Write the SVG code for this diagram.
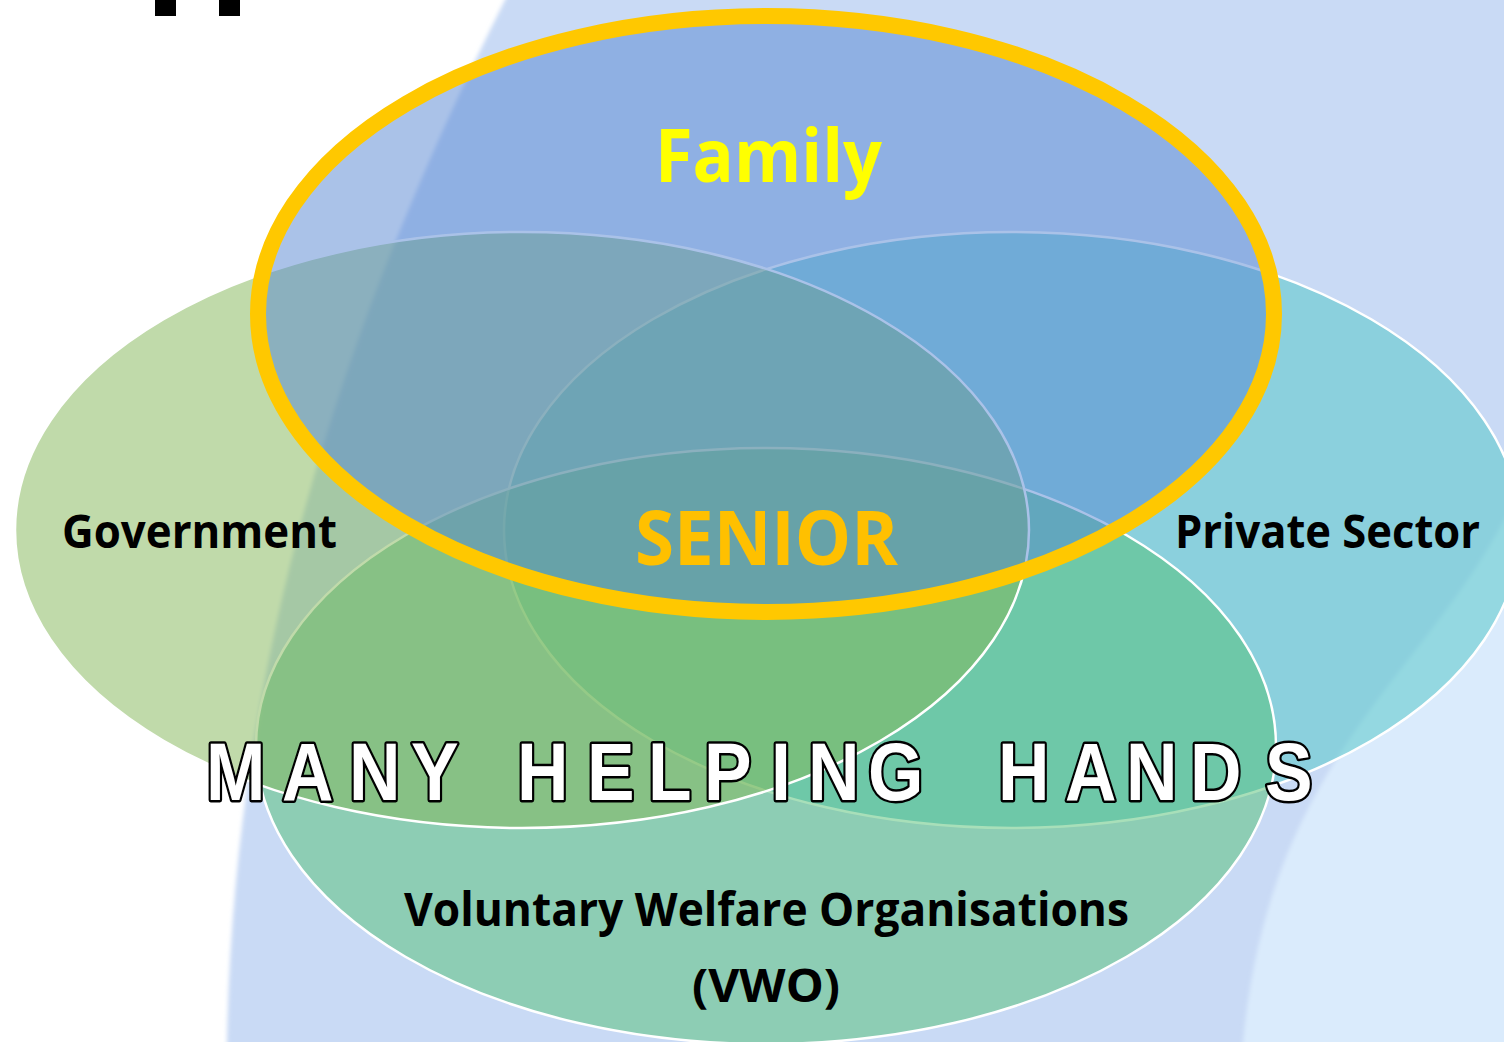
<svg xmlns="http://www.w3.org/2000/svg" width="1504" height="1042" viewBox="0 0 1504 1042">
  <style>
    .circ { fill-opacity: 0.5; stroke: #FFFFFF; stroke-width: 2.5; }
    .lbl { font-family: "Open Sans", "Liberation Sans", sans-serif; font-weight: bold; }
    .motto { font-family: "Liberation Sans", Arial, sans-serif; font-weight: bold; font-size: 81px; fill: #FFFFFF; stroke: #000000; stroke-width: 5; paint-order: stroke; stroke-linejoin: round; }
  </style>
  <defs>
    <filter id="soft" x="-10%" y="-10%" width="120%" height="120%">
      <feGaussianBlur stdDeviation="2"/>
    </filter>
  </defs>
  <rect x="0" y="0" width="1504" height="1042" fill="#FFFFFF"/>
  <g id="background">
    <path d="M 530 -50 L 505 0 C 380 250, 235 600, 227 1042 L 226 1100 L 1580 1100 L 1580 -50 Z" fill="#C9DAF5" filter="url(#soft)"/>
    <path d="M 1580 380 L 1504 520 C 1420 680, 1270 760, 1243 1042 L 1240 1100 L 1580 1100 Z" fill="#DAEBFC" filter="url(#soft)"/>
    <rect x="155" y="0" width="21" height="16" fill="#000000"/>
    <rect x="219" y="0" width="21" height="16" fill="#000000"/>
  </g>
  <g id="private-sector">
    <ellipse class="circ" cx="1012" cy="530" rx="508" ry="298" fill="#4DC6C5"/>
  </g>
  <g id="vwo">
    <ellipse class="circ" cx="766" cy="746" rx="510" ry="298" fill="#51C073"/>
  </g>
  <g id="government">
    <ellipse class="circ" cx="522" cy="530" rx="507" ry="298" fill="#81B555"/>
  </g>
  <g id="family">
    <ellipse cx="766" cy="314" rx="508" ry="298" fill="#5586D1" fill-opacity="0.5" stroke="#FFC800" stroke-width="16"/>
  </g>
  <g id="connectors"></g>
  <g id="labels">
    <text class="lbl" x="655" y="182" font-size="74" fill="#FFFF00" textLength="227" lengthAdjust="spacingAndGlyphs">Family</text>
    <text class="lbl" x="635" y="565" font-size="76" fill="#FFC000" textLength="263" lengthAdjust="spacingAndGlyphs">SENIOR</text>
    <text class="lbl" x="62" y="548" font-size="46" fill="#000000" textLength="275" lengthAdjust="spacingAndGlyphs">Government</text>
    <text class="lbl" x="1175" y="548" font-size="46" fill="#000000" textLength="305" lengthAdjust="spacingAndGlyphs">Private Sector</text>
    <text class="lbl" x="404" y="926" font-size="46" fill="#000000" textLength="725" lengthAdjust="spacingAndGlyphs">Voluntary Welfare Organisations</text>
    <text class="lbl" x="692" y="1002" font-size="46" fill="#000000" textLength="148" lengthAdjust="spacingAndGlyphs">(VWO)</text>
    <text class="motto" transform="scale(0.88 1)" y="800" x="234.1 320.5 396.6 467.0 500 587.5 667.0 736.4 800.0 876.1 918.2 986.4 1100 1134.1 1210.2 1279.5 1352.3 1437.5">MANY HELPING HANDS</text>
  </g>
</svg>
